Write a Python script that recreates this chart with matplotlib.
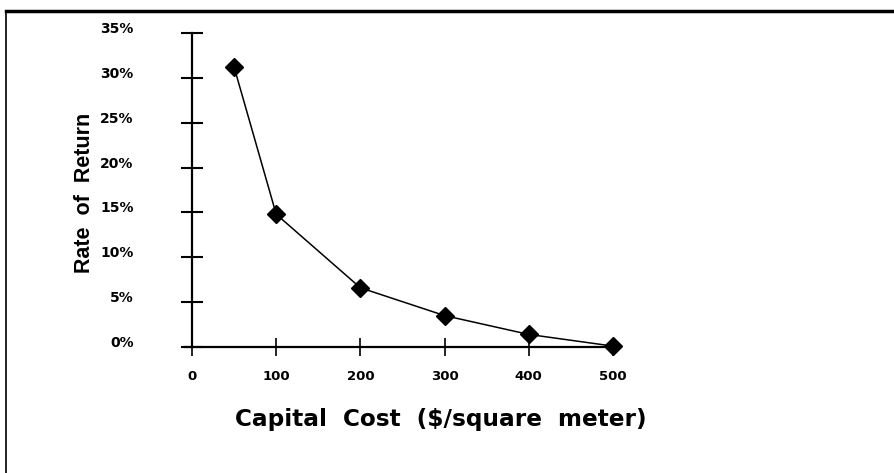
import numpy as np
import matplotlib
matplotlib.use('Agg')
import matplotlib.pyplot as plt
from matplotlib.lines import Line2D

# capital cost ($/m^2) vs rate of return (%)
cost = [50, 100, 200, 300, 400, 500]
rate = [31.2, 14.8, 6.6, 3.5, 1.4, 0.1]
xticks = [0, 100, 200, 300, 400, 500]
yticks = [0, 5, 10, 15, 20, 25, 30, 35]
ylabels = ['0%', '5%', '10%', '15%', '20%', '25%', '30%', '35%']

W, H = 895, 473
fig = plt.figure(figsize=(W / 100, H / 100), dpi=100)
ax = fig.add_axes([192 / W, (H - 347) / H, 421 / W, 314 / H])

ax.plot(cost, rate, color='black', lw=1.1, marker='D', ms=9,
        markerfacecolor='black', markeredgecolor='black', clip_on=False)

ax.set_xlim(0, 500)
ax.set_ylim(0, 35)
ax.set_xticks(xticks)
ax.set_xticklabels([str(t) for t in xticks])
ax.set_yticks(yticks)
ax.set_yticklabels(ylabels)

for s in ['top', 'right']:
    ax.spines[s].set_visible(False)
ax.spines['left'].set_linewidth(1.6)
ax.spines['bottom'].set_linewidth(1.6)
ax.spines['bottom'].set_bounds(-8, 500)
ax.tick_params(axis='y', direction='inout', length=16, width=1.5,
               labelsize=10, pad=34)
ax.tick_params(axis='x', direction='inout', length=13, width=1.2,
               labelsize=9.5, pad=10)
for lab in ax.get_xticklabels() + ax.get_yticklabels():
    lab.set_fontweight('heavy')
    lab.set_family('DejaVu Sans')
for lab in ax.get_yticklabels():
    lab.set_va('baseline')

ax.set_xlabel('Capital  Cost  ($/square  meter)', fontsize=16.7,
              fontweight='bold', family='DejaVu Sans', labelpad=18)
ax.xaxis.label.set_x(0.591)
ax.set_ylabel('Rate  of  Return', fontsize=15.5, fontweight='bold',
              family='Liberation Sans', labelpad=4)
ax.yaxis.label.set_y(0.49)
ax.patch.set_alpha(0)

# page frame lines
fig.add_artist(Line2D([6 / W, 893 / W], [1 - 11 / H, 1 - 11 / H],
                      transform=fig.transFigure, color='black', lw=2.5))
fig.add_artist(Line2D([6 / W, 6 / W], [1 - 11 / H, 0],
                      transform=fig.transFigure, color='black', lw=1.2))

plt.savefig('out.png', dpi=100)
